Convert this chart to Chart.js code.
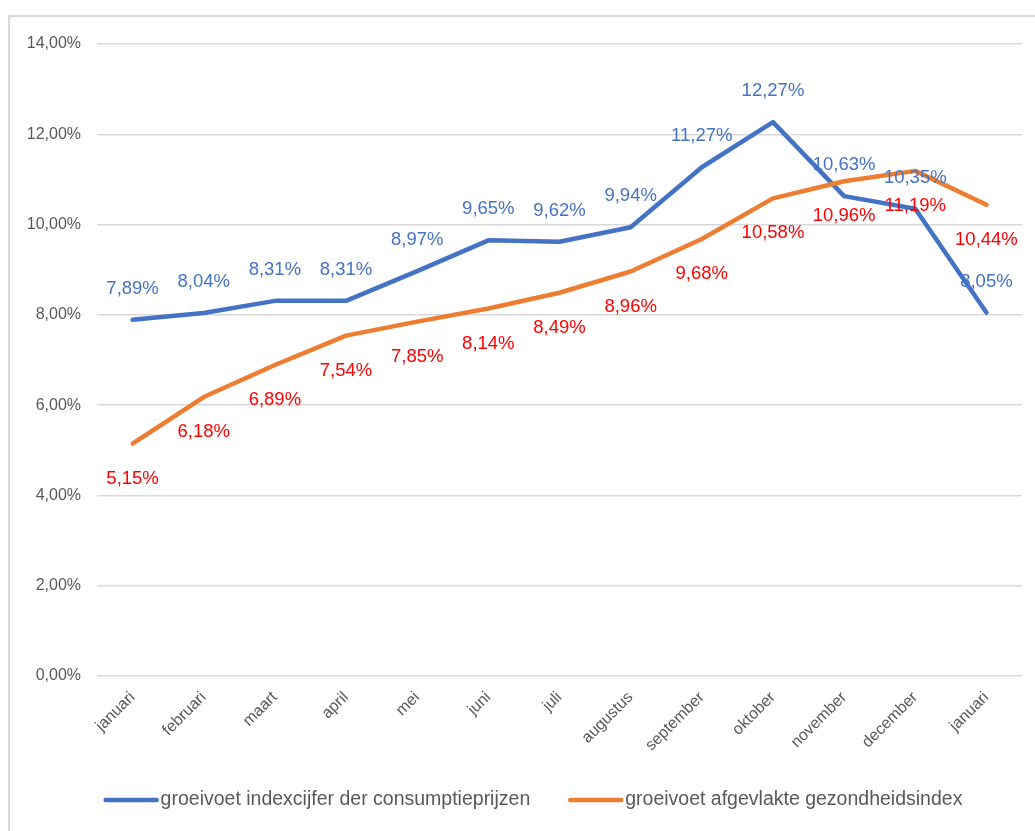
<!DOCTYPE html>
<html>
<head>
<meta charset="utf-8">
<script src="https://cdn.jsdelivr.net/npm/chart.js@4/dist/chart.umd.min.js"></script>
<style>
  html, body { margin: 0; padding: 0; background: #ffffff; }
  #wrap { position: relative; width: 1035px; height: 831px; }
</style>
</head>
<body>
<div id="wrap"><canvas id="c" width="1035" height="831"></canvas></div>
<script>
const categories = ['januari','februari','maart','april','mei','juni','juli','augustus','september','oktober','november','december','januari'];
const cpiLabel = 'groeivoet indexcijfer der consumptieprijzen';
const cpiValues = [7.89, 8.04, 8.31, 8.31, 8.97, 9.65, 9.62, 9.94, 11.27, 12.27, 10.63, 10.35, 8.05];
const healthLabel = 'groeivoet afgevlakte gezondheidsindex';
const healthValues = [5.15, 6.18, 6.89, 7.54, 7.85, 8.14, 8.49, 8.96, 9.68, 10.58, 10.96, 11.19, 10.44];
const yTicks = [0, 2, 4, 6, 8, 10, 12, 14];

const FONT = '"Liberation Sans", Arial, sans-serif';
const fmt = v => v.toFixed(2).replace('.', ',') + '%';

const frame = {
  id: 'frame',
  beforeDraw(chart) {
    const ctx = chart.ctx;
    ctx.save();
    ctx.fillStyle = '#ffffff';
    ctx.fillRect(0, 0, chart.width, chart.height);
    ctx.strokeStyle = '#d9d9d9';
    ctx.lineWidth = 2;
    ctx.strokeRect(9, 16, 3000, 3000);
    ctx.restore();
  }
};

const valueLabels = {
  id: 'valueLabels',
  afterDatasetsDraw(chart) {
    const ctx = chart.ctx;
    ctx.save();
    ctx.font = '18.5px ' + FONT;
    ctx.textAlign = 'center';
    ctx.textBaseline = 'middle';
    const cfg = [{ ds: 0, dy: -31, color: '#4472C4' }, { ds: 1, dy: 35, color: '#FF0000' }];
    cfg.forEach(c => {
      const meta = chart.getDatasetMeta(c.ds);
      const data = chart.data.datasets[c.ds].data;
      meta.data.forEach((pt, i) => {
        ctx.fillStyle = c.color;
        ctx.fillText(fmt(data[i]), pt.x, pt.y + c.dy);
      });
    });
    ctx.restore();
  }
};

const customLegend = {
  id: 'customLegend',
  afterDraw(chart) {
    const ctx = chart.ctx;
    ctx.save();
    ctx.font = '19.5px ' + FONT;
    ctx.textBaseline = 'middle';
    const sample = 55, gap = 2, between = 38, y = 800, center = 533;
    const items = chart.data.datasets.map(ds => ({ text: ds.label, color: ds.borderColor, w: ctx.measureText(ds.label).width }));
    const total = items.reduce((a, it) => a + sample + gap + it.w, 0) + between * (items.length - 1);
    let x = center - total / 2;
    items.forEach(it => {
      ctx.strokeStyle = it.color;
      ctx.lineWidth = 4.5;
      ctx.lineCap = 'round';
      ctx.beginPath();
      ctx.moveTo(x + 2, y);
      ctx.lineTo(x + sample - 2, y);
      ctx.stroke();
      ctx.fillStyle = '#595959';
      ctx.fillText(it.text, x + sample + gap, y);
      x += sample + gap + it.w + between;
    });
    ctx.restore();
  }
};

new Chart(document.getElementById('c'), {
  type: 'line',
  data: {
    labels: categories,
    datasets: [
      { label: cpiLabel, data: cpiValues, borderColor: '#4472C4', backgroundColor: '#4472C4',
        borderWidth: 4.5, pointRadius: 0, tension: 0, borderCapStyle: 'round', borderJoinStyle: 'round', order: 1 },
      { label: healthLabel, data: healthValues, borderColor: '#ED7D31', backgroundColor: '#ED7D31',
        borderWidth: 4.5, pointRadius: 0, tension: 0, borderCapStyle: 'round', borderJoinStyle: 'round', order: 0 }
    ]
  },
  options: {
    responsive: false,
    animation: false,
    layout: { padding: { left: 0, right: 13, top: 44, bottom: 71 } },
    plugins: {
      tooltip: { enabled: false },
      legend: { display: false }
    },
    scales: {
      x: {
        offset: true,
        grid: { display: false },
        border: { display: false },
        ticks: {
          font: { family: FONT, size: 16 },
          color: '#595959',
          maxRotation: 45, minRotation: 45,
          autoSkip: false,
          padding: 4
        },
        afterFit(s) { s.height = 84; }
      },
      y: {
        min: 0, max: 14,
        afterBuildTicks(s) { s.ticks = yTicks.map(v => ({ value: v })); },
        grid: { color: '#d9d9d9', lineWidth: 1.5, drawTicks: false },
        border: { display: false },
        ticks: {
          font: { family: FONT, size: 16 },
          color: '#595959',
          padding: 16,
          callback: v => fmt(v)
        },
        afterFit(s) { s.width = 97; }
      }
    }
  },
  plugins: [frame, valueLabels, customLegend]
});
</script>
</body>
</html>
